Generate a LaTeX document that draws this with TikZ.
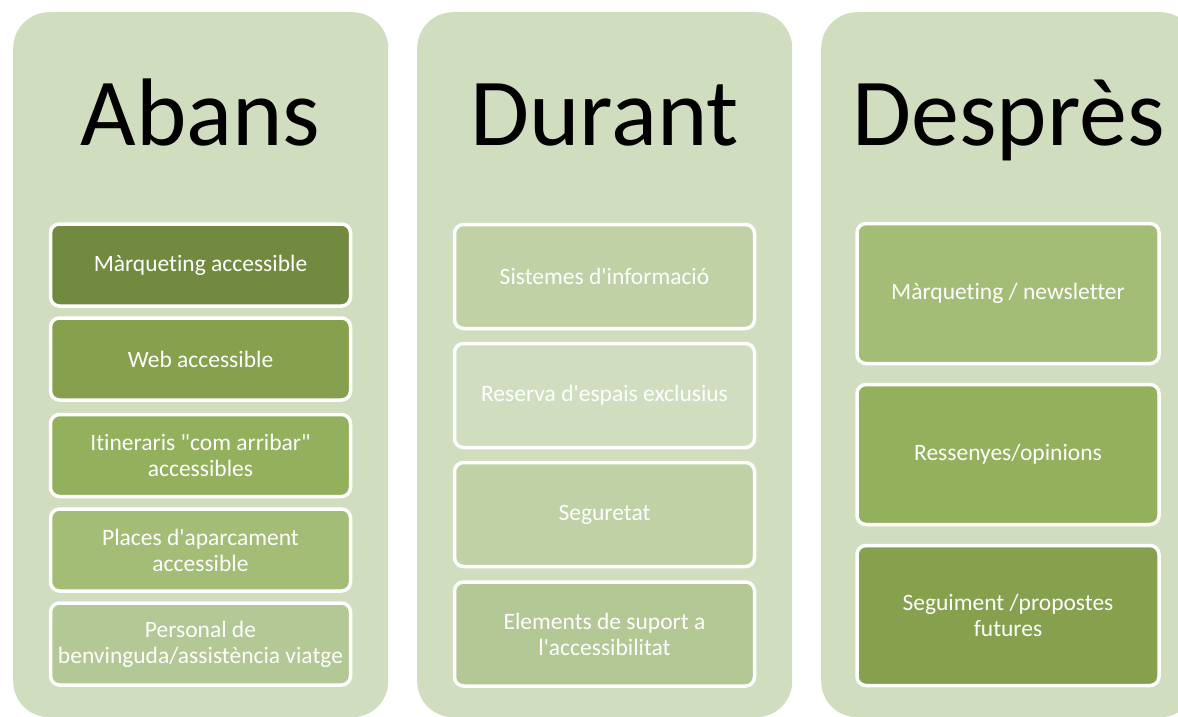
\documentclass[tikz,border=0pt]{standalone}
\usepackage{fontspec}
\setmainfont{Carlito}[Ligatures={TeXOff,CommonOff}]
\usetikzlibrary{positioning}
\definecolor{panelbg}{HTML}{D0DDBF}
\definecolor{greenA}{HTML}{718A3F}
\definecolor{greenB}{HTML}{86A04D}
\definecolor{greenC}{HTML}{93B05C}
\definecolor{greenD}{HTML}{A3BD76}
\definecolor{greenE}{HTML}{B3C894}
\definecolor{greenF}{HTML}{C1D1A6}
\begin{document}
\begin{tikzpicture}[x=1pt,y=-1pt]
\tikzstyle{panel} = [rectangle, rounded corners=36pt, minimum width=375pt, minimum height=705pt, fill=panelbg, anchor=north west, inner sep=0pt]
\tikzstyle{title} = [font=\fontsize{96}{100}\selectfont, anchor=base, inner sep=0pt]
\tikzstyle{item} = [rectangle, rounded corners=9pt, draw=white, line width=3.5pt, text=white, align=center, minimum width=300pt, font=\fontsize{23.5}{26}\selectfont, inner sep=0pt]
\useasboundingbox (0,0) rectangle (1178,716);
\clip (0,0) rectangle (1178,716);
%
\node (abans) [panel] at (13,12) {};
\node (durant) [panel] at (417,12) {};
\node (despres) [panel] at (821,12) {};
%
\node (abans-title) [title] at (200.5,145) {Abans};
\node (durant-title) [title] at (604.5,145) {Durant};
\node (despres-title) [title] at (1008.5,145) {Desprès};
%
\node (marqueting) [item, fill=greenA, minimum height=82pt] at (200.5,265) {Màrqueting accessible};
\node (web) [item, fill=greenB, minimum height=82pt] at (200.5,359) {Web accessible};
\node (itineraris) [item, fill=greenC, minimum height=82pt] at (200.5,455.5) {Itineraris "com arribar"\\accessibles};
\node (places) [item, fill=greenD, minimum height=82pt] at (200.5,550) {Places d'aparcament\\accessible};
\node (personal) [item, fill=greenE, minimum height=82pt] at (200.5,644) {Personal de\\benvinguda/assistència viatge};
%
\node (sistemes) [item, fill=greenF, minimum height=104pt] at (604.5,276.5) {Sistemes d'informació};
\node (reserva) [item, fill=panelbg, minimum height=104pt] at (604.5,395.5) {Reserva d'espais exclusius};
\node (seguretat) [item, fill=greenF, minimum height=104pt] at (604.5,514.5) {Seguretat};
\node (elements) [item, fill=greenE, minimum height=104pt] at (604.5,634) {Elements de suport a\\l'accessibilitat};
%
\node (newsletter) [item, fill=greenD, minimum height=140pt, minimum width=302pt] at (1008,293.5) {Màrqueting / newsletter};
\node (ressenyes) [item, fill=greenC, minimum height=140pt, minimum width=302pt] at (1008,454.5) {Ressenyes/opinions};
\node (seguiment) [item, fill=greenB, minimum height=140pt, minimum width=302pt] at (1008,615.5) {Seguiment /propostes\\futures};
\end{tikzpicture}
\end{document}
